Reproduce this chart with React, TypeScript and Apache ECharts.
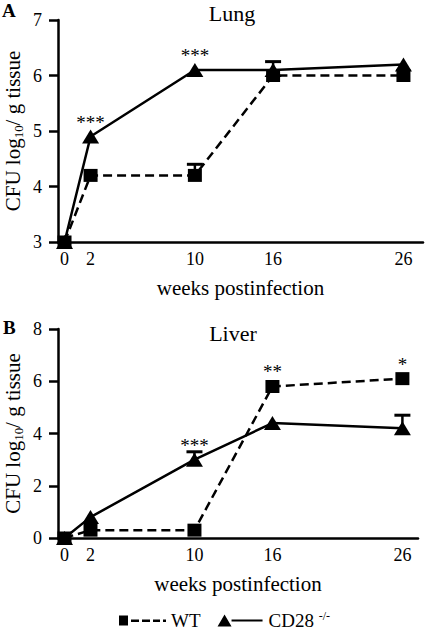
import React, { useEffect, useRef } from 'react';
import * as echarts from 'echarts';

const FONT = "'Liberation Serif', 'Times New Roman', serif";

const weeks = [0, 2, 10, 16, 26];
const xTickLabels = [0, 2, 10, 16, 26];
const seriesNames = ['WT', 'CD28'];

const lungWT = [3, 4.2, 4.2, 6.0, 6.0];
const lungWTErr = [0, 0, 0.2, 0, 0];
const lungCD28 = [3, 4.9, 6.1, 6.1, 6.2];
const lungCD28Err = [0, 0, 0, 0.15, 0];
const lungStars = ['', '***', '***', '', ''];

const liverWT = [0, 0.3, 0.3, 5.8, 6.1];
const liverWTErr = [0, 0, 0, 0, 0];
const liverCD28 = [0, 0.8, 3.0, 4.4, 4.2];
const liverCD28Err = [0, 0, 0.3, 0, 0.5];
const liverStars = ['', '', '***', '**', '*'];

const panelTitles = ['Lung', 'Liver'];
const panelLetters = ['A', 'B'];
const xName = 'weeks postinfection';
const yName = 'CFU log{sub|10}/ g tissue';

const WT_ICON = 'path://M0 0H9V10H0Z M12 4H20V6.4H12Z M23 4H31V6.4H23Z M34 4H41V6.4H34Z M44 4H47V6.4H44Z';
const CD_ICON = 'path://M0 12L7 0L14 12Z M14 5H45V7H14Z';

const txt = (size: number, weight: string = 'normal') => ({
  fontFamily: FONT,
  fontSize: size,
  fontWeight: weight,
  fontStyle: 'normal',
  color: '#000',
});

function errSeries(vals: number[], errs: number[], gi: number) {
  const data = weeks.map((w, i) => [w, vals[i], errs[i]]).filter((d) => d[2] > 0);
  return {
    type: 'custom',
    xAxisIndex: gi,
    yAxisIndex: gi,
    encode: { x: 0, y: 1 },
    data,
    z: 1,
    renderItem: (params: any, api: any) => {
      const x = api.value(0);
      const y = api.value(1);
      const e = api.value(2);
      const p0 = api.coord([x, y]);
      const p1 = api.coord([x, y + e]);
      return {
        type: 'group',
        children: [
          { type: 'line', shape: { x1: p0[0], y1: p0[1], x2: p1[0], y2: p1[1] }, style: { stroke: '#000', lineWidth: 2.5 } },
          { type: 'line', shape: { x1: p1[0] - 8, y1: p1[1], x2: p1[0] + 8, y2: p1[1] }, style: { stroke: '#000', lineWidth: 3 } },
        ],
      };
    },
  };
}

function starSeries(a: number[], b: number[], stars: string[], gi: number) {
  const idx = weeks.map((_, i) => i).filter((i) => stars[i]);
  const data = idx.map((i) => [weeks[i], Math.max(a[i], b[i])]);
  const labels = idx.map((i) => stars[i]);
  return {
    type: 'custom',
    xAxisIndex: gi,
    yAxisIndex: gi,
    encode: { x: 0, y: 1 },
    data,
    z: 5,
    renderItem: (params: any, api: any) => {
      const p = api.coord([api.value(0), api.value(1)]);
      return {
        type: 'text',
        x: p[0],
        y: p[1] - 14.5,
        style: {
          text: labels[params.dataIndex],
          fontSize: 19,
          fontFamily: FONT,
          fontWeight: 'normal',
          fontStyle: 'normal',
          fill: '#000',
          align: 'center',
          verticalAlign: 'middle',
        },
      };
    },
  };
}

function lineSeries(name: string, vals: number[], gi: number) {
  const isWT = name === 'WT';
  return {
    name,
    type: 'line',
    xAxisIndex: gi,
    yAxisIndex: gi,
    data: weeks.map((w, i) => [w, vals[i]]),
    symbol: isWT ? 'rect' : 'triangle',
    symbolSize: isWT ? [14, 13] : [17, 14],
    lineStyle: { color: '#000', width: 2.5, type: isWT ? [9, 5] : 'solid' },
    itemStyle: { color: '#000', borderWidth: 0 },
    z: isWT ? 4 : 3,
  };
}

const axisLineStyle = { lineStyle: { color: '#000', width: 2.5 } };

function xAxis(gi: number, max: number) {
  return {
    type: 'value',
    gridIndex: gi,
    min: -0.5,
    max,
    interval: 0.5,
    name: xName,
    nameLocation: 'middle',
    nameGap: 35,
    nameMoveOverlap: false,
    nameTextStyle: txt(21),
    axisLine: { show: true, onZero: false, ...axisLineStyle },
    axisTick: { show: false },
    splitLine: { show: false },
    axisLabel: {
      ...txt(18),
      margin: 8,
      formatter: (v: number) => (xTickLabels.includes(v) ? String(v) : ''),
    },
  };
}

function yAxis(gi: number, min: number, max: number, interval: number) {
  return {
    type: 'value',
    gridIndex: gi,
    min,
    max,
    interval,
    name: yName,
    nameLocation: 'middle',
    nameGap: 33,
    nameMoveOverlap: false,
    nameTextStyle: {
      ...txt(21),
      rich: {
        sub: { ...txt(13), padding: [12, 0, 0, 0] },
      },
    },
    axisLine: { show: true, onZero: false, ...axisLineStyle },
    axisTick: { show: true, inside: false, length: 9, lineStyle: { color: '#000', width: 2.5 } },
    splitLine: { show: false },
    axisLabel: { ...txt(18), margin: 16 },
  };
}

export default function App() {
  const ref = useRef<HTMLDivElement>(null);
  useEffect(() => {
    if (!ref.current) return;
    const chart = echarts.init(ref.current, null, { renderer: 'svg' });
    chart.setOption({
      animation: false,
      backgroundColor: '#fff',
      textStyle: txt(12),
      title: [
        { text: panelLetters[0], left: 2, top: 1, padding: 0, textStyle: txt(19, 'bold') },
        { text: panelTitles[0], left: 232, top: 2, padding: 0, textAlign: 'center', textStyle: txt(22) },
        { text: panelLetters[1], left: 3, top: 318, padding: 0, textStyle: txt(19, 'bold') },
        { text: panelTitles[1], left: 233, top: 322, padding: 0, textAlign: 'center', textStyle: txt(22) },
      ],
      legend: {
        left: 119,
        top: 610,
        padding: 0,
        itemWidth: 47,
        itemHeight: 12,
        itemGap: 17,
        symbolKeepAspect: true,
        itemStyle: { borderWidth: 0 },
        data: [
          { name: seriesNames[0], icon: WT_ICON },
          { name: seriesNames[1], icon: CD_ICON },
        ],
        formatter: (n: string) => (n === 'CD28' ? 'CD28 {sup|-/-}' : n),
        textStyle: {
          ...txt(19),
          rich: { sup: { ...txt(12), padding: [0, 0, 9, 0] } },
        },
      },
      grid: [
        { left: 58, top: 20, width: 365, height: 222, outerBoundsMode: 'none', containLabel: false },
        { left: 58, top: 329, width: 360, height: 209, outerBoundsMode: 'none', containLabel: false },
      ],
      xAxis: [xAxis(0, 27.5), xAxis(1, 27.2)],
      yAxis: [yAxis(0, 3, 7, 1), yAxis(1, 0, 8, 2)],
      series: [
        errSeries(lungWT, lungWTErr, 0),
        errSeries(lungCD28, lungCD28Err, 0),
        lineSeries('CD28', lungCD28, 0),
        lineSeries('WT', lungWT, 0),
        starSeries(lungWT, lungCD28, lungStars, 0),
        errSeries(liverWT, liverWTErr, 1),
        errSeries(liverCD28, liverCD28Err, 1),
        lineSeries('CD28', liverCD28, 1),
        lineSeries('WT', liverWT, 1),
        starSeries(liverWT, liverCD28, liverStars, 1),
      ],
    });
    return () => chart.dispose();
  }, []);
  return <div ref={ref} style={{ position: 'absolute', left: 0, top: 0, width: 425, height: 630 }} />;
}
